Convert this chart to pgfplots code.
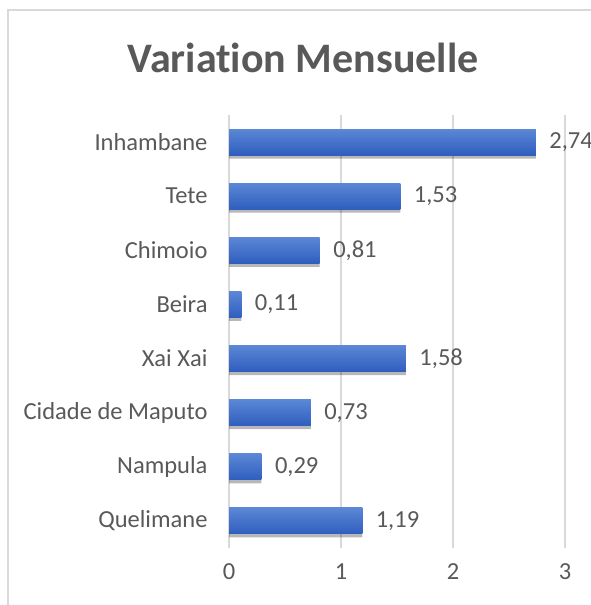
\documentclass[border=0pt]{standalone}
\usepackage{pgfplots}
\pgfplotsset{compat=1.18}
\usepackage{fontspec}
\setmainfont{Carlito}[Ligatures={NoCommon}]
\definecolor{txt}{HTML}{595959}
\definecolor{gridc}{HTML}{D9D9D9}
\definecolor{bartop}{HTML}{5B87D6}
\definecolor{barbot}{HTML}{2F5EBE}
\begin{document}
\begin{tikzpicture}[x=1pt,y=1pt]
\useasboundingbox (0,0) rectangle (590,605);
\fill[white] (0,0) rectangle (590,605);
\draw[gridc, line width=1.5pt] (8,-20) -- (8,595) -- (620,595);
\node[anchor=base, text=txt, font=\fontsize{42}{50}\selectfont\bfseries] at (303,532) {Variation Mensuelle};
\begin{axis}[
  at={(229pt,57pt)}, anchor=south west,
  scale only axis, width=336pt, height=433pt,
  xmin=0, xmax=3, ymin=-0.5, ymax=7.5,
  xtick={0,1,2,3},
  ytick={0,...,7},
  yticklabels={Quelimane,Nampula,Cidade de Maputo,Xai Xai,Beira\hspace{5pt},Chimoio,Tete,Inhambane},
  axis line style={draw=none},
  xmajorgrids, major grid style={gridc, line width=1.2pt},
  tick style={draw=none},
  /pgf/number format/assume math mode=true,
  ticklabel style={font=\fontsize{24.5}{28}\selectfont, text=txt},
  yticklabel style={xshift=-18pt},
  xticklabel style={yshift=-12pt},
  clip=false,
  shadowbar/.style={xbar, bar width=26pt, bar shift=-3.5pt, draw=none, fill=black, fill opacity=0.28},
  mainbar/.style={xbar, bar width=26pt, bar shift=0pt, draw=none, top color=bartop, bottom color=barbot,
    nodes near coords,
    nodes near coords style={/pgf/number format/use comma, /pgf/number format/fixed, /pgf/number format/fixed zerofill, /pgf/number format/precision=2, /pgf/number format/assume math mode=true,
      anchor=west, xshift=10pt, font=\fontsize{24.5}{28}\selectfont, text=txt}},
]
\addplot[shadowbar] coordinates {(1.19,0) (0.29,1) (0.73,2) (1.58,3) (0.11,4) (0.81,5) (1.53,6) (2.74,7)};
\addplot[mainbar] coordinates {(1.19,0)};
\addplot[mainbar] coordinates {(0.29,1)};
\addplot[mainbar] coordinates {(0.73,2)};
\addplot[mainbar] coordinates {(1.58,3)};
\addplot[mainbar] coordinates {(0.11,4)};
\addplot[mainbar] coordinates {(0.81,5)};
\addplot[mainbar] coordinates {(1.53,6)};
\addplot[mainbar] coordinates {(2.74,7)};
\end{axis}
\end{tikzpicture}
\end{document}
